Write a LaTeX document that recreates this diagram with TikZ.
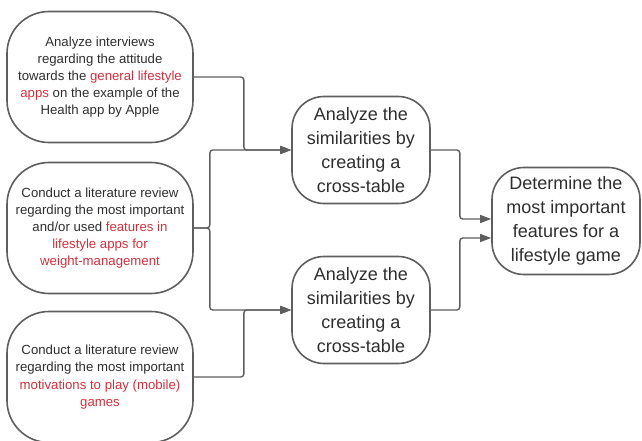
\documentclass[tikz,border=0pt]{standalone}
\usepackage{fontspec}
\setmainfont{Liberation Sans}
\usetikzlibrary{arrows.meta}
\definecolor{linegray}{HTML}{5E5E5E}
\definecolor{textgray}{HTML}{2E2E2E}
\definecolor{hlred}{HTML}{D1303C}
\newcommand{\hl}[1]{\textcolor{hlred}{#1}}

\begin{document}
\begin{tikzpicture}[x=1pt, y=-1pt,
  task/.style={draw=linegray, line width=1.6pt, rounded corners=42pt,
    minimum width=186pt, minimum height=131pt, align=center,
    text=textgray, font=\fontsize{13.2}{17.2}\selectfont},
  step box/.style={draw=linegray, line width=1.6pt, rounded corners=32pt,
    minimum height=107pt, align=center, inner sep=2pt,
    text=textgray, font=\fontsize{18}{24}\selectfont},
  link/.style={draw=linegray, line width=1.4pt, rounded corners=3pt,
    -{Triangle[length=11pt, width=8pt]}}]
  \useasboundingbox (0,0) rectangle (642,441);
  \node[task] (interviews) at (100,77) {Analyze interviews\\regarding the attitude\\towards the \hl{general lifestyle}\\\hl{apps} on the example of the\\Health app by Apple};
  \node[task] (features) at (100,228) {Conduct a literature review\\regarding the most important\\and/or used \hl{features in}\\\hl{lifestyle apps for}\\\hl{weight-management}};
  \node[task] (motivations) at (100,377) {Conduct a literature review\\regarding the most important\\\hl{motivations to play (mobile)}\\\hl{games}};
  \node[step box, minimum width=138pt] (simA) at (361,150) {Analyze the\\similarities by\\creating a\\cross-table};
  \node[step box, minimum width=138pt] (simB) at (361,310) {Analyze the\\similarities by\\creating a\\cross-table};
  \node[step box, minimum width=148pt] (goal) at (566,221) {Determine the\\most important\\features for a\\lifestyle game};
  \draw[link] (interviews.east) -- ++(50,0) |- (simA.west);
  \draw[link] (features.east) -- ++(16,0) |- (simA.west);
  \draw[link] (features.east) -- ++(16,0) |- (simB.west);
  \draw[link] (motivations.east) -- ++(50,0) |- (simB.west);
  \draw[link] (simA.east) -- ++(29,0) |- ([yshift=2pt]goal.west);
  \draw[link] (simB.east) -- ++(29,0) |- ([yshift=-17pt]goal.west);
\end{tikzpicture}
\end{document}
